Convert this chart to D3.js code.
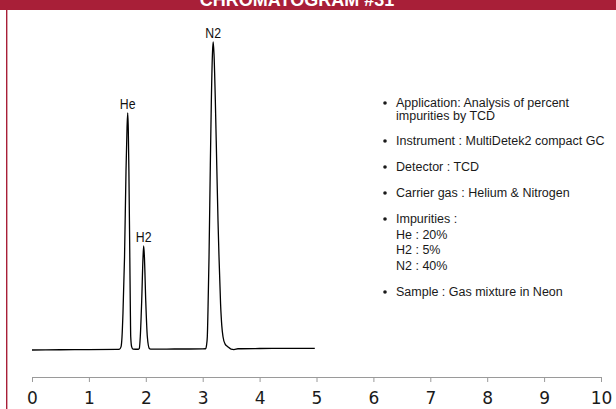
<!DOCTYPE html>
<html>
<head>
<meta charset="utf-8">
<script src="https://cdn.jsdelivr.net/npm/d3@7/dist/d3.min.js"></script>
<style>
  html, body { margin: 0; padding: 0; background: #fff; }
  svg { display: block; }
</style>
</head>
<body>
<div id="chart"></div>
<script>
// ---------------- data ----------------
const title = "CHROMATOGRAM #31";

// retention time (min) of each trace point
const times = [
  0.00, 0.50, 1.00, 1.50, 1.540, 1.564, 1.582, 1.599, 1.626, 1.652, 1.670, 1.682,
  1.692, 1.703, 1.719, 1.728, 1.735, 1.752, 1.775, 1.820, 1.870,
  1.886, 1.903, 1.928, 1.951, 1.963, 1.976, 1.999, 2.027, 2.062, 2.083,
  2.50, 3.00, 3.049, 3.067, 3.081, 3.093, 3.111, 3.134, 3.152, 3.173, 3.185,
  3.199, 3.222, 3.247, 3.269, 3.287, 3.314, 3.335, 3.357, 3.392, 3.445, 3.497,
  3.550, 3.620, 4.00, 4.50, 4.97
];
// detector signal (relative units) at each time
const signal = [
  0.00, 0.08, 0.15, 0.22, 0.30, 1.0, 4.3, 12, 30, 58, 72, 77,
  72, 58, 30, 14, 4.3, 1.0, 0.30, 0.25, 0.25,
  0.5, 4.3, 16, 30, 33.8, 30, 16, 4.3, 0.5, 0.30,
  0.32, 0.35, 0.4, 1.5, 4.3, 13, 30, 60, 81, 97, 100,
  96, 81, 60, 42, 30, 15, 8, 4.3, 2.0, 1.0, 0.3,
  0.15, 0.40, 0.48, 0.52, 0.55
];

// peak annotations
const peakNames   = ["He", "H2", "N2"];
const peakTimes   = [1.682, 1.963, 3.185];
const peakHeights = [77, 33.8, 100];

// axis ticks
const xTicks = [0, 1, 2, 3, 4, 5, 6, 7, 8, 9, 10];

// notes (bulleted list, each item may have several lines)
const notes = [
  ["Application: Analysis of percent", "impurities by TCD"],
  ["Instrument : MultiDetek2 compact GC"],
  ["Detector : TCD"],
  ["Carrier gas : Helium & Nitrogen"],
  ["Impurities :", "He : 20%", "H2 : 5%", "N2 : 40%"],
  ["Sample : Gas mixture in Neon"]
];

// ---------------- drawing ----------------
const W = 616, H = 409;
const brand = "#a81f38";

const svg = d3.select("#chart").append("svg")
  .attr("width", W).attr("height", H);

// header bar + left rule
svg.append("rect").attr("x", 0).attr("y", 0).attr("width", W).attr("height", 10)
  .attr("fill", brand);
svg.append("rect").attr("x", 6).attr("y", 10).attr("width", 1.4).attr("height", H - 10)
  .attr("fill", brand);
svg.append("text")
  .attr("x", 297).attr("y", 5.5)
  .attr("text-anchor", "middle")
  .attr("font-family", "'Liberation Sans', Arial, sans-serif")
  .attr("font-weight", "bold")
  .attr("font-size", 18)
  .attr("fill", "#fff")
  .text(title);

const x = d3.scaleLinear().domain([0, 10]).range([32, 601]);
const y = d3.scaleLinear().domain([0, 100]).range([350, 42]);

// x axis
const axisG = svg.append("g")
  .attr("transform", `translate(0,${377})`)
  .call(d3.axisBottom(x).tickValues(xTicks).tickFormat(d3.format("d"))
        .tickSize(5).tickSizeOuter(5).tickPadding(10));
axisG.select(".domain").attr("stroke", "#9a9a9a");
axisG.selectAll(".tick line").attr("stroke", "#9a9a9a");
axisG.selectAll(".tick text")
  .attr("font-family", "'DejaVu Sans', Verdana, sans-serif")
  .attr("font-size", 17)
  .attr("fill", "#1a1a1a");

// trace
const pts = times.map((t, i) => [t, signal[i]]);
const line = d3.line()
  .x(d => x(d[0]))
  .y(d => y(d[1]))
  .curve(d3.curveMonotoneX);
svg.append("path")
  .datum(pts)
  .attr("d", line)
  .attr("fill", "none")
  .attr("stroke", "#000")
  .attr("stroke-width", 1.3)
  .attr("stroke-linejoin", "round");

// peak labels (narrow sans)
svg.selectAll(".peak-label")
  .data(peakNames)
  .enter().append("text")
  .attr("class", "peak-label")
  .attr("transform", (d, i) =>
    `translate(${x(peakTimes[i])},${y(peakHeights[i]) - 4}) scale(0.82,1)`)
  .attr("text-anchor", "middle")
  .attr("font-family", "'Liberation Sans', Arial, sans-serif")
  .attr("font-size", 15)
  .attr("fill", "#111")
  .text(d => d);

// notes list
const notesG = svg.append("g")
  .attr("font-family", "'Liberation Sans', Arial, sans-serif")
  .attr("font-size", 12.5)
  .attr("fill", "#1a1a1a");
const bulletX = 385, textX = 396;
const itemTops = [107, 145, 171, 197, 223, 296];
const wrapLH = 13, subLH = 15.5;
notes.forEach((lines, i) => {
  const y0 = itemTops[i];
  notesG.append("circle").attr("cx", bulletX).attr("cy", y0 - 4).attr("r", 1.8)
    .attr("fill", "#1a1a1a");
  lines.forEach((l, j) => {
    const lh = lines.length > 2 ? subLH : wrapLH;
    notesG.append("text").attr("x", textX).attr("y", y0 + j * lh).text(l);
  });
});
</script>
</body>
</html>
